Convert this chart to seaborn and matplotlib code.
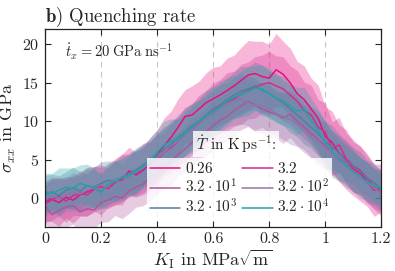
import numpy as np
import pandas as pd
import matplotlib
matplotlib.use("Agg")
import matplotlib.pyplot as plt
import seaborn as sns

# Data
K_I = [0.0, 0.025, 0.05, 0.075, 0.1, 0.125, 0.15, 0.175, 0.2, 0.225, 0.25, 0.275,
       0.3, 0.325, 0.35, 0.375, 0.4, 0.425, 0.45, 0.475, 0.5, 0.525, 0.55, 0.575,
       0.6, 0.625, 0.65, 0.675, 0.7, 0.725, 0.75, 0.775, 0.8, 0.825, 0.85, 0.875,
       0.9, 0.925, 0.95, 0.975, 1.0, 1.025, 1.05, 1.075, 1.1, 1.125, 1.15, 1.175, 1.2]

rate_labels = [r"$0.26$", r"$3.2$", r"$3.2\cdot10^1$", r"$3.2\cdot10^2$",
               r"$3.2\cdot10^3$", r"$3.2\cdot10^4$"]
rate_colors = ["#e8107f", "#d42a92", "#b0559c", "#8f75aa", "#4f80a4", "#1fa6a4"]

sig_026 = [-0.4, -0.2, -0.6, 0.1, -0.3, 0.4, 0.8, 1.2, 0.9, 1.6, 2.1, 2.4,
           3.5, 3.0, 3.6, 4.4, 5.6, 6.8, 7.9, 9.2, 10.6, 10.8, 11.6, 12.4,
           12.9, 13.4, 14.0, 14.6, 15.3, 16.0, 16.2, 15.8, 15.6, 16.7, 16.1, 15.0,
           13.6, 12.8, 11.6, 10.4, 8.0, 7.2, 5.8, 5.0, 3.8, 3.2, 2.2, 1.0, 1.3]
sig_32 = [-0.8, -0.2, 0.2, -0.4, 0.3, 0.6, 0.4, 1.1, 1.5, 1.2, 2.0, 2.6,
          2.9, 3.3, 3.9, 4.5, 5.0, 5.9, 6.6, 7.4, 8.3, 9.0, 9.8, 10.6,
          11.2, 11.9, 12.5, 12.9, 13.5, 14.0, 14.4, 14.8, 15.0, 14.6, 14.2, 13.4,
          12.6, 11.4, 10.8, 9.2, 8.6, 6.4, 6.9, 5.1, 4.2, 3.6, 2.6, 1.4, 0.7]
sig_32e1 = [-1.0, -2.2, -1.6, -1.2, -1.0, -1.8, -1.4, -1.6, -0.6, -0.3, 0.2, 0.0,
            0.9, 1.4, 1.8, 2.6, 3.2, 4.1, 4.8, 5.6, 6.4, 7.2, 8.0, 8.6,
            9.4, 10.1, 10.6, 11.4, 12.0, 12.6, 12.1, 11.6, 11.2, 10.9, 10.4, 10.9,
            10.0, 9.2, 8.4, 7.6, 6.8, 6.0, 5.2, 4.6, 3.6, 2.8, 2.0, 1.4, 0.8]
sig_32e2 = [-0.2, 0.3, -0.1, 0.4, 0.8, 0.5, 1.0, 1.3, 1.0, 1.6, 2.2, 2.0,
            2.8, 3.4, 3.9, 4.6, 5.2, 5.9, 6.8, 7.4, 8.2, 8.9, 9.6, 10.4,
            11.0, 11.6, 12.1, 12.6, 12.9, 12.4, 12.0, 12.1, 11.6, 11.0, 10.6, 10.2,
            9.6, 9.0, 8.0, 7.2, 6.4, 5.6, 4.8, 4.2, 3.4, 2.6, 2.2, 1.2, 0.6]
sig_32e3 = [0.4, 0.8, 0.3, 1.0, 1.3, 0.9, 1.6, 1.4, 1.9, 2.3, 2.1, 2.7,
            3.2, 3.6, 4.3, 4.8, 5.6, 6.3, 7.0, 7.9, 8.6, 9.4, 10.0, 10.8,
            11.6, 12.1, 12.8, 13.4, 13.9, 14.2, 14.6, 14.0, 13.6, 13.0, 12.4, 11.6,
            10.8, 10.0, 9.2, 8.4, 7.4, 6.6, 5.8, 4.8, 4.2, 3.4, 2.6, 2.0, 1.2]
sig_32e4 = [0.8, 0.6, 1.0, 1.4, 1.2, 1.9, 1.6, 1.3, 0.7, 1.8, 2.2, 2.6,
            2.9, 3.4, 4.0, 4.9, 6.0, 6.9, 7.4, 7.6, 8.4, 9.2, 9.9, 10.6,
            11.2, 11.8, 12.6, 13.1, 13.5, 13.9, 14.3, 14.2, 13.6, 13.0, 12.6, 12.0,
            11.3, 11.6, 10.0, 8.8, 7.2, 6.1, 5.0, 4.2, 3.4, 2.8, 2.1, 1.6, 1.2]

std_026 = [2.6, 2.9, 3.1, 2.7, 3.0, 2.8, 3.2, 2.9, 3.1, 2.8, 3.0, 3.3,
           3.1, 2.9, 3.2, 3.4, 3.3, 3.6, 3.4, 3.7, 3.5, 3.8, 3.6, 3.9,
           4.1, 3.8, 4.2, 4.0, 4.3, 4.5, 4.2, 4.6, 4.4, 4.7, 4.3, 4.5,
           4.2, 4.4, 4.0, 4.3, 3.9, 4.1, 3.7, 3.9, 3.5, 3.6, 3.3, 3.4, 3.1]
std_32 = [2.4, 2.7, 2.5, 2.8, 2.6, 2.9, 2.7, 3.0, 2.8, 2.6, 2.9, 3.1,
          2.8, 3.0, 3.2, 3.0, 3.3, 3.1, 3.4, 3.2, 3.5, 3.3, 3.6, 3.4,
          3.7, 3.5, 3.8, 3.6, 3.9, 3.7, 4.0, 3.8, 4.1, 3.9, 4.2, 3.8,
          4.0, 3.7, 3.9, 3.6, 3.8, 3.5, 3.6, 3.3, 3.4, 3.1, 3.2, 2.9, 3.0]
std_32e1 = [2.2, 2.5, 2.3, 2.6, 2.4, 2.7, 2.5, 2.3, 2.6, 2.8, 2.5, 2.7,
            2.9, 2.6, 2.8, 3.0, 2.7, 2.9, 3.1, 2.8, 3.0, 3.2, 2.9, 3.1,
            3.3, 3.0, 3.2, 3.4, 3.1, 3.3, 3.5, 3.2, 3.4, 3.1, 3.3, 3.0,
            3.2, 2.9, 3.1, 2.8, 3.0, 2.7, 2.9, 2.6, 2.8, 2.5, 2.7, 2.4, 2.6]
std_32e2 = [2.3, 2.1, 2.4, 2.2, 2.5, 2.3, 2.6, 2.4, 2.2, 2.5, 2.7, 2.4,
            2.6, 2.8, 2.5, 2.7, 2.9, 2.6, 2.8, 3.0, 2.7, 2.9, 3.1, 2.8,
            3.0, 3.2, 2.9, 3.1, 3.3, 3.0, 3.2, 2.9, 3.1, 2.8, 3.0, 3.2,
            2.9, 3.1, 2.8, 3.0, 2.7, 2.9, 2.6, 2.8, 2.5, 2.7, 2.4, 2.6, 2.3]
std_32e3 = [2.5, 2.3, 2.6, 2.4, 2.7, 2.5, 2.3, 2.6, 2.8, 2.5, 2.7, 2.4,
            2.6, 2.9, 2.7, 2.5, 2.8, 3.0, 2.7, 2.9, 3.1, 2.8, 3.0, 3.2,
            2.9, 3.1, 2.8, 3.0, 3.2, 2.9, 3.1, 3.3, 3.0, 3.2, 2.9, 3.1,
            2.8, 3.0, 2.7, 2.9, 2.6, 2.8, 2.5, 2.7, 2.4, 2.6, 2.3, 2.5, 2.2]
std_32e4 = [2.4, 2.6, 2.9, 2.5, 2.7, 2.4, 2.8, 2.6, 2.3, 2.7, 2.5, 2.8,
            2.6, 2.9, 2.7, 3.0, 2.8, 3.1, 2.9, 2.6, 2.9, 3.1, 2.8, 3.0,
            3.2, 2.9, 3.1, 2.8, 3.0, 3.2, 2.9, 3.1, 3.3, 3.0, 3.2, 2.9,
            3.1, 2.8, 3.0, 2.7, 2.9, 2.6, 2.8, 2.5, 2.7, 2.4, 2.6, 2.3, 2.5]

series = [sig_026, sig_32, sig_32e1, sig_32e2, sig_32e3, sig_32e4]
stds = [std_026, std_32, std_32e1, std_32e2, std_32e3, std_32e4]

x_ticks = [0, 0.2, 0.4, 0.6, 0.8, 1.0, 1.2]
x_tick_labels = ["0", "0.2", "0.4", "0.6", "0.8", "1", "1.2"]
y_ticks = [0, 5, 10, 15, 20]

# Style
sns.set_theme(style="ticks")
plt.rcParams.update({
    "font.family": "serif",
    "font.serif": ["cmr10"],
    "mathtext.fontset": "cm",
    "axes.formatter.use_mathtext": True,
    "axes.unicode_minus": False,
    "xtick.direction": "in",
    "ytick.direction": "in",
    "xtick.top": True,
    "ytick.right": True,
    "axes.edgecolor": "#222222",
    "axes.linewidth": 0.9,
})

records = []
for lab, vals in zip(rate_labels, series):
    for k, s in zip(K_I, vals):
        records.append({"K_I": k, "sigma": s, "rate": lab})
df = pd.DataFrame(records)

fig = plt.figure(figsize=(3.95, 2.71), dpi=100)
ax = fig.add_axes([0.114, 0.162, 0.851, 0.731])

for xv in x_ticks[1:-1]:
    ax.axvline(xv, color="#c8c8c8", linestyle=(0, (5, 4)), linewidth=0.8, zorder=0)

for vals, sd, col in zip(series, stds, rate_colors):
    v = np.array(vals)
    s = np.array(sd)
    ax.fill_between(K_I, v - s, v + s, color=col, alpha=0.3, linewidth=0, zorder=1)

sns.lineplot(data=df, x="K_I", y="sigma", hue="rate", hue_order=rate_labels,
             palette=rate_colors, linewidth=1.1, errorbar=None, ax=ax, zorder=2)

ax.set_xlim(0, 1.2)
ax.set_ylim(-3.8, 22)
ax.set_xticks(x_ticks)
ax.set_xticklabels(x_tick_labels)
ax.set_yticks(y_ticks)
ax.tick_params(labelsize=11.5, length=4, width=0.8, pad=4)
ax.set_xlabel(r"$K_\mathrm{I}$ in MPa$\sqrt{\mathrm{m}}$", fontsize=13, labelpad=1)
ax.set_ylabel(r"$\sigma_{xx}$ in GPa", fontsize=13, labelpad=3)
ax.set_title(r"$\mathbf{b)}$ Quenching rate", loc="left", fontsize=13.5, pad=5)

ax.text(0.07, 19.0, r"$\dot{t}_x = 20\;\mathrm{GPa}\;\mathrm{ns}^{-1}$", fontsize=10.5,
        va="center", ha="left")

# legend filled row by row, like the reference; title drawn on its own patch
handles, labels = ax.get_legend_handles_labels()
order = [0, 2, 4, 1, 3, 5]
leg = ax.legend([handles[i] for i in order], [labels[i] for i in order], ncol=2,
                loc="lower left", bbox_to_anchor=(0.302, 0.04),
                fontsize=11, frameon=True, fancybox=False, framealpha=0.82,
                edgecolor="none", handlelength=2.0, handletextpad=0.3,
                columnspacing=0.35, labelspacing=0.12, borderpad=0.2,
                borderaxespad=0)
leg.get_frame().set_facecolor("white")

ax.text(0.568, 0.42, r"$\dot{T}$ in K$\,$ps$^{-1}$:", transform=ax.transAxes,
        fontsize=11, ha="center", va="center", zorder=6,
        bbox=dict(boxstyle="square,pad=0.15", facecolor="white", alpha=0.82,
                  edgecolor="none"))

fig.savefig("out.png", dpi=100)
